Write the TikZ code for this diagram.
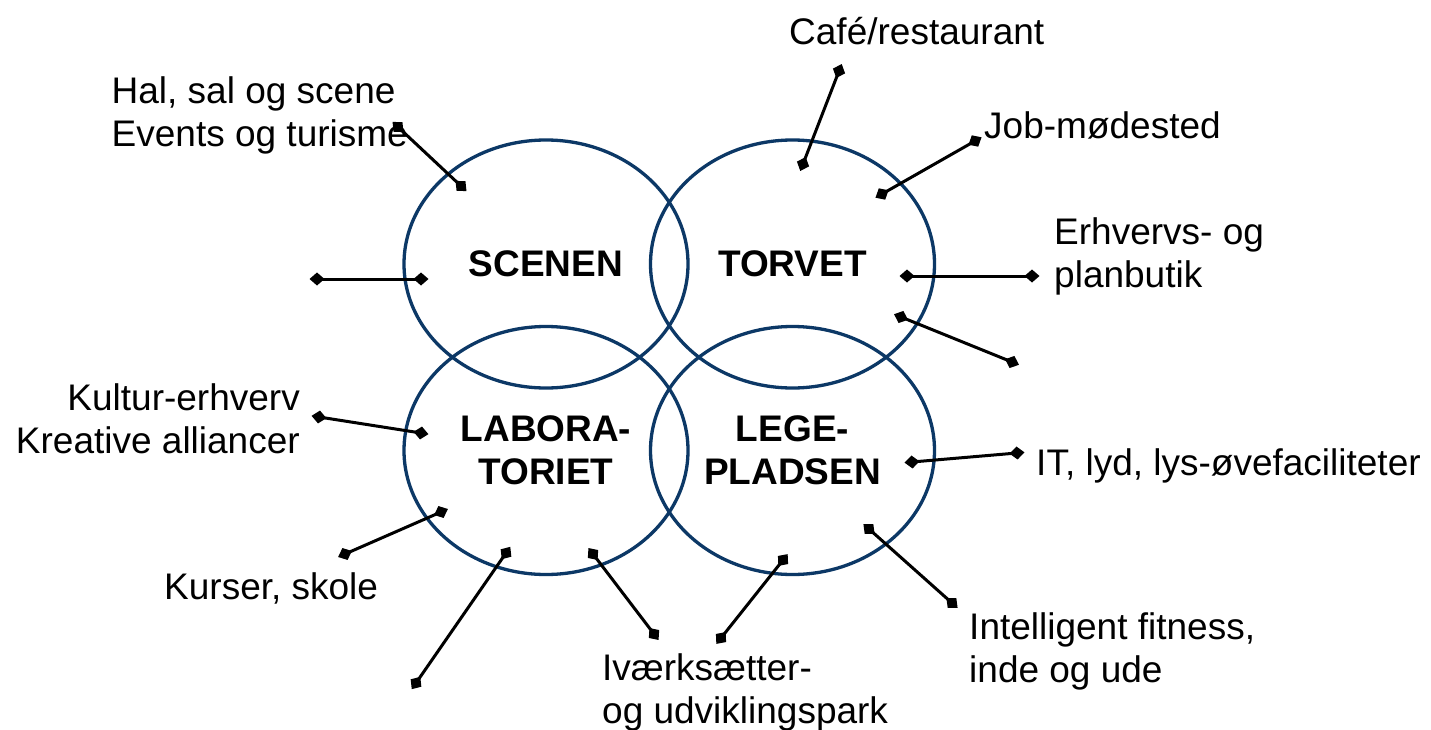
\documentclass[tikz,border=0pt]{standalone}
\usepackage{fontspec}
\setmainfont{Liberation Sans}
\usetikzlibrary{arrows.meta,shapes.geometric}
\definecolor{navy}{RGB}{12,56,102}
\tikzset{
  ring/.style={ellipse, draw=navy, line width=3.3pt, minimum width=284pt, minimum height=248pt,
    inner sep=0pt, align=center, font=\bfseries\fontsize{37}{43}\selectfont},
  conn/.style={line width=3pt, black,
    {Turned Square[length=15pt,width=13pt]}-{Turned Square[length=15pt,width=13pt]},
    shorten <=-7.5pt, shorten >=-7.5pt},
  lbl/.style={font=\fontsize{37}{43.5}\selectfont, inner sep=0pt}
}
\begin{document}
\begin{tikzpicture}[x=1pt,y=-1pt]
\path[use as bounding box, fill=white] (0,0) rectangle (1431,730);

% ellipses
\node[ring] (scenen) at (546,264) {SCENEN};
\node[ring] (torvet) at (792.5,264) {TORVET};
\node[ring] (lab) at (546,450.5) {LABORA-\\TORIET};
\node[ring] (lege) at (792.5,450.5) {LEGE-\\PLADSEN};

% labels
\node[lbl, anchor=base west] (cafe) at (789,45) {Café/restaurant};
\node[lbl, align=left, anchor=north west] (hal) at (111.5,72.55) {\strut Hal, sal og scene\\\strut Events og turisme};
\node[lbl, anchor=base west] (job) at (984,139) {Job-mødested};
\node[lbl, align=left, anchor=north west] (erhv) at (1054,213.55) {\strut Erhvervs- og\\\strut planbutik};
\node[lbl, align=right, anchor=north east] (kultur) at (300,379.55) {\strut Kultur-erhverv\\\strut Kreative alliancer};
\node[lbl, anchor=base west] (it) at (1036,475) {IT, lyd, lys-øvefaciliteter};
\node[lbl, anchor=base west] (kurser) at (164,599) {Kurser, skole};
\node[lbl, align=left, anchor=north west] (fitness) at (969,608.55) {\strut Intelligent fitness,\\\strut inde og ude};
\node[lbl, align=left, anchor=north west] (ivaerk) at (602,649.55) {\strut Iværksætter-\\\strut og udviklingspark};

% connector end points
\coordinate (h1) at (398,127);  \coordinate (h2) at (461,186);
\coordinate (e1) at (317,279);  \coordinate (e2) at (421,279);
\coordinate (c1) at (839,71);   \coordinate (c2) at (803,164);
\coordinate (j1) at (975,141);  \coordinate (j2) at (882,194);
\coordinate (p1) at (907,276);  \coordinate (p2) at (1032,276);
\coordinate (r1) at (901,317);  \coordinate (r2) at (1012,362);
\coordinate (k1) at (319,417);  \coordinate (k2) at (421,433);
\coordinate (s1) at (345,554);  \coordinate (s2) at (441,512);
\coordinate (b1) at (416,683);  \coordinate (b2) at (506,553);
\coordinate (v1) at (593,554);  \coordinate (v2) at (654,634);
\coordinate (w1) at (783,560);  \coordinate (w2) at (721,638);
\coordinate (f1) at (869,529);  \coordinate (f2) at (952,603);
\coordinate (i1) at (912,462);  \coordinate (i2) at (1017,453);

\draw[conn] (h1) -- (h2);
\draw[conn] (e1) -- (e2);
\draw[conn] (c1) -- (c2);
\draw[conn] (j1) -- (j2);
\draw[conn] (p1) -- (p2);
\draw[conn] (r1) -- (r2);
\draw[conn] (k1) -- (k2);
\draw[conn] (s1) -- (s2);
\draw[conn] (b1) -- (b2);
\draw[conn] (v1) -- (v2);
\draw[conn] (w1) -- (w2);
\draw[conn] (f1) -- (f2);
\draw[conn] (i1) -- (i2);
\end{tikzpicture}
\end{document}
